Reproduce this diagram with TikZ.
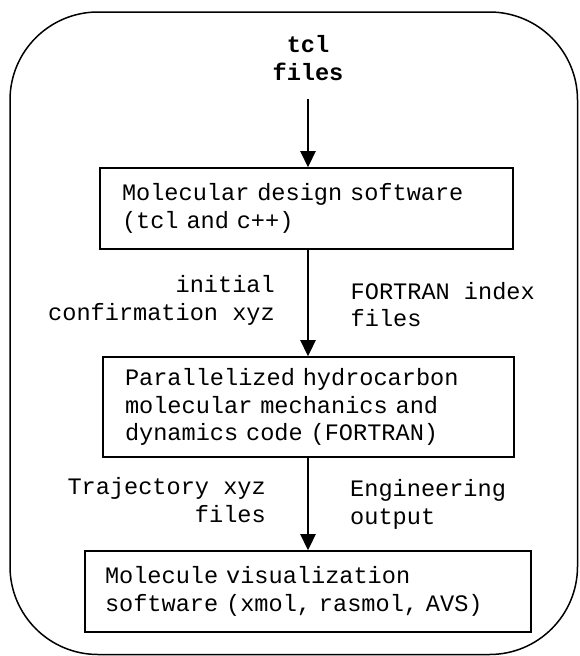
\documentclass[tikz,border=0pt]{standalone}
\usepackage{fontspec}
\newfontfamily\monofam[WordSpace={1,0,0},PunctuationSpace=WordSpace]{Liberation Mono}
\usetikzlibrary{arrows.meta}
\tikzset{
  txt/.style={font=\monofam\fontsize{23.6}{27.5}\selectfont},
  procbox/.style={txt, draw, line width=1.6pt, align=left, inner ysep=0pt},
  lbl/.style={txt, inner sep=0pt},
  arr/.style={line width=2.6pt, -{Triangle[width=15pt,length=16pt]}},
  frame/.style={line width=1.5pt, rounded corners=88pt}
}
\begin{document}
\begin{tikzpicture}[x=1pt,y=-1pt]
\useasboundingbox (0,0) rectangle (579,656);
\draw[frame] (10,12) rectangle (577.5,654.5);
\node[lbl, font=\monofam\bfseries\fontsize{23.6}{28}\selectfont, align=center] (tcl) at (308,58) {tcl\\files};
\node[procbox, inner xsep=22pt, text width=369pt, minimum height=81pt] (box1) at (306.5,208.5)
  {Molecular design software\\(tcl and c++)};
\node[procbox, inner xsep=22pt, text width=367pt, minimum height=100pt] (box2) at (308.5,407)
  {Parallelized hydrocarbon\\molecular mechanics and\\dynamics code (FORTRAN)};
\node[procbox, inner xsep=20pt, text width=406pt, minimum height=81pt] (box3) at (308,591.5)
  {Molecule visualization\\software (xmol, rasmol, AVS)};
\coordinate (s1) at (308,99);
\draw[arr] (s1) -- (s1 |- box1.north);
\draw[arr] (s1 |- box1.south) -- (s1 |- box2.north);
\draw[arr] (s1 |- box2.south) -- (s1 |- box3.north);
\node[lbl, align=right, anchor=east] (l1) at (275,300.5) {initial\\confirmation xyz};
\node[lbl, align=left, anchor=west] (l2) at (350.5,304.5) {FORTRAN index\\files};
\node[lbl, align=right, anchor=east] (l3) at (266,500) {Trajectory xyz\\files};
\node[lbl, align=left, anchor=west] (l4) at (350,504.5) {Engineering\\output};
\end{tikzpicture}
\end{document}
